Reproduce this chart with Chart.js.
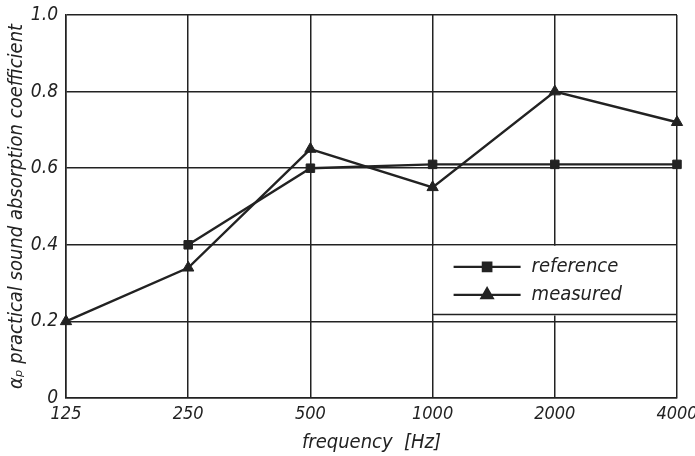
<!DOCTYPE html>
<html>
<head>
<meta charset="utf-8">
<script src="https://cdn.jsdelivr.net/npm/chart.js@4/dist/chart.umd.min.js"></script>
<style>
  html, body { margin: 0; padding: 0; background: #ffffff; }
  #wrap { width: 695px; height: 456px; position: relative; }
</style>
</head>
<body>
<div id="wrap"><canvas id="c" width="695" height="456"></canvas></div>
<script>
// ---- data ----
const frequencies = ['125', '250', '500', '1000', '2000', '4000'];
const referenceValues = [null, 0.40, 0.60, 0.61, 0.61, 0.61];
const measuredValues = [0.20, 0.34, 0.65, 0.55, 0.80, 0.72];
const yTicks = [0, 0.2, 0.4, 0.6, 0.8, 1.0];
const seriesNames = ['reference', 'measured'];
const xTitle = 'frequency  [Hz]';
const yTitle = 'αₚ practical sound absorption coefficient';

const FONT = "'Liberation Sans Narrow', 'DejaVu Sans Condensed', 'Liberation Sans', sans-serif";
const INK = '#222222';

const legendBox = {
  id: 'legendBox',
  afterDatasetsDraw(chart) {
    const ctx = chart.ctx;
    const xs = chart.scales.x, ys = chart.scales.y;
    const ca = chart.chartArea;
    const x0 = xs.getPixelForValue(3);
    const x1 = ca.right;
    const y0 = ys.getPixelForValue(0.4);
    const y1 = ys.getPixelForValue(0.218);
    ctx.save();
    ctx.fillStyle = '#ffffff';
    ctx.fillRect(x0 + 1, y0 + 1, (x1 - x0) - 2, (y1 - y0));
    ctx.strokeStyle = INK;
    ctx.lineWidth = 1.5;
    ctx.beginPath();
    ctx.moveTo(x0, y1);
    ctx.lineTo(x1, y1);
    ctx.stroke();
    chart.data.datasets.forEach((ds, i) => {
      const yy = y0 + 22 + i * 28;
      const lx0 = x0 + 21, lx1 = x0 + 88, mx = (lx0 + lx1) / 2;
      ctx.strokeStyle = INK;
      ctx.lineWidth = 2.2;
      ctx.beginPath();
      ctx.moveTo(lx0, yy);
      ctx.lineTo(lx1, yy);
      ctx.stroke();
      ctx.fillStyle = INK;
      Chart.helpers.drawPoint(ctx, {
        pointStyle: ds.pointStyle, radius: ds.pointRadius, rotation: 0, borderWidth: 1
      }, mx, yy);
      ctx.fillStyle = INK;
      ctx.font = "italic 20px " + FONT;
      ctx.textAlign = 'left';
      ctx.textBaseline = 'middle';
      ctx.fillText(ds.label, x0 + 99, yy);
    });
    ctx.restore();
  }
};

new Chart(document.getElementById('c'), {
  type: 'line',
  data: {
    labels: frequencies,
    datasets: [
      {
        label: seriesNames[0],
        data: referenceValues,
        borderColor: INK,
        backgroundColor: INK,
        borderWidth: 2.4,
        pointStyle: 'rect',
        pointRadius: 6,
        pointBorderWidth: 1,
        spanGaps: false,
        tension: 0
      },
      {
        label: seriesNames[1],
        data: measuredValues,
        borderColor: INK,
        backgroundColor: INK,
        borderWidth: 2.4,
        pointStyle: 'triangle',
        pointRadius: 6.5,
        pointBorderWidth: 1,
        tension: 0
      }
    ]
  },
  options: {
    responsive: false,
    animation: false,
    devicePixelRatio: 1,
    layout: { padding: { left: 0, top: 15, right: 18, bottom: 0 } },
    plugins: {
      legend: { display: false },
      tooltip: { enabled: false }
    },
    scales: {
      x: {
        type: 'category',
        offset: false,
        grid: { color: INK, lineWidth: 1.5, drawTicks: false },
        border: { display: true, color: INK, width: 1.5 },
        ticks: {
          color: INK,
          font: { family: FONT, size: 18, style: 'italic' },
          padding: 6,
          maxRotation: 0,
          autoSkip: false
        },
        title: {
          display: true,
          text: xTitle,
          color: INK,
          font: { family: FONT, size: 20, style: 'italic' },
          padding: { top: 0, bottom: 1 }
        },
        afterFit(scale) {
          scale.height = 58;
          scale.paddingLeft = 0;
          scale.paddingRight = 0;
        }
      },
      y: {
        min: 0,
        max: 1,
        afterBuildTicks(scale) { scale.ticks = yTicks.map(v => ({ value: v })); },
        grid: { color: INK, lineWidth: 1.5, drawTicks: false },
        border: { display: true, color: INK, width: 1.5 },
        ticks: {
          color: INK,
          font: { family: FONT, size: 19, style: 'italic' },
          padding: 8,
          callback: (v) => v === 0 ? '0' : Number(v).toFixed(1)
        },
        title: {
          display: true,
          text: yTitle,
          color: INK,
          font: { family: FONT, size: 20, style: 'italic' },
          padding: { top: 5, bottom: 0 }
        },
        afterFit(scale) {
          scale.width = 66;
          scale.paddingTop = 0;
          scale.paddingBottom = 0;
        }
      }
    }
  },
  plugins: [legendBox]
});
</script>
</body>
</html>
